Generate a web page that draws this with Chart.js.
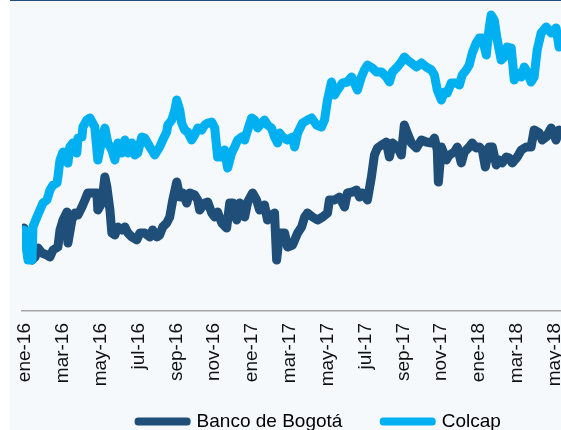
<!DOCTYPE html>
<html>
<head>
<meta charset="utf-8">
<script src="https://cdn.jsdelivr.net/npm/chart.js@4"></script>
<style>
  html, body { margin: 0; padding: 0; background: #ffffff; overflow: hidden; }
  #frame {
    position: absolute; left: 10px; top: 0;
    width: 607px; height: 440px;
    background: #f5f9fc;
    border-top: 1px solid #1f4e79;
  }
</style>
</head>
<body>
<div id="frame"><canvas id="priceChart"></canvas></div>
<script>
// months since ene-16 (x) and index values (y)
const tickLabels = ["ene-16", "mar-16", "may-16", "jul-16", "sep-16", "nov-16", "ene-17", "mar-17",
  "may-17", "jul-17", "sep-17", "nov-17", "ene-18", "mar-18", "may-18"];

const bogotaMonths = [-0.05, 0.16, 0.37, 0.53, 0.69, 0.90, 1.16, 1.32, 1.48, 1.74, 1.85, 2.01, 2.22, 2.27, 2.48, 2.64,
  2.80, 3.01, 3.17, 3.32, 3.54, 3.80, 3.85, 4.06, 4.22, 4.33, 4.49, 4.59, 4.75, 4.91, 5.12, 5.28, 5.44, 5.65, 5.91,
  6.07, 6.33, 6.60, 6.75, 6.97, 7.12, 7.28, 7.49, 7.65, 7.81, 8.02, 8.18, 8.34, 8.55, 8.71, 8.97, 9.13, 9.23, 9.50,
  9.66, 9.87, 10.03, 10.18, 10.40, 10.66, 10.82, 10.98, 11.19, 11.35, 11.61, 11.77, 12.03, 12.24, 12.40, 12.66,
  12.82, 13.03, 13.19, 13.30, 13.46, 13.72, 13.88, 14.14, 14.41, 14.62, 14.78, 14.93, 15.20, 15.46, 15.73, 15.99,
  16.09, 16.36, 16.62, 16.89, 17.04, 17.31, 17.52, 17.68, 17.84, 18.10, 18.31, 18.47, 18.63, 18.84, 19.10, 19.26,
  19.42, 19.68, 19.89, 20.05, 20.21, 20.42, 20.69, 20.95, 21.21, 21.48, 21.64, 21.79, 21.85, 22.01, 22.27, 22.43,
  22.69, 22.85, 23.06, 23.22, 23.48, 23.64, 23.85, 24.01, 24.17, 24.33, 24.54, 24.70, 24.91, 25.07, 25.22, 25.44,
  25.59, 25.75, 26.02, 26.23, 26.49, 26.75, 26.91, 27.18, 27.34, 27.55, 27.81, 28.07, 28.23];
const bogotaValues = [103.4, 97.6, 97.0, 97.6, 99.4, 98.4, 98.0, 97.6, 99.0, 99.6, 103.0, 105.0, 106.6, 100.4, 105.0, 106.4,
  106.0, 107.6, 109.0, 110.4, 110.4, 110.4, 107.0, 108.4, 113.6, 111.6, 107.0, 102.4, 102.0, 103.6, 103.0, 103.6, 102.4, 101.6, 101.0,
  102.4, 102.4, 101.6, 103.0, 101.6, 102.0, 103.6, 104.4, 105.6, 109.0, 112.6, 109.6, 110.4, 108.4, 110.4, 110.0, 109.0, 107.0, 108.4,
  108.6, 106.4, 105.6, 106.6, 104.4, 103.4, 108.4, 108.4, 105.0, 108.4, 105.6, 108.6, 110.4, 109.0, 107.0, 108.0,
  105.0, 106.0, 106.4, 97.0, 102.4, 102.4, 99.6, 100.0, 102.4, 103.6, 105.6, 106.4, 105.6, 105.0, 105.6, 106.4,
  109.0, 109.0, 109.6, 107.6, 110.4, 110.6, 111.0, 109.6, 110.4, 109.0, 113.6, 118.0, 119.4, 120.0, 120.6, 117.6,
  120.4, 119.6, 118.0, 124.0, 122.4, 120.4, 119.4, 121.0, 120.6, 120.4, 121.4, 119.0, 112.6, 119.6, 117.0, 118.0,
  118.6, 119.6, 116.4, 118.6, 119.6, 120.4, 119.4, 119.6, 119.0, 115.6, 119.6, 119.6, 116.0, 117.0, 116.4, 117.6,
  117.4, 116.4, 117.6, 119.0, 119.6, 119.6, 123.0, 122.4, 121.0, 121.6, 123.4, 121.0, 123.0];

const colcapMonths = [-0.05, 0.16, 0.37, 0.42, 0.63, 0.79, 0.95, 1.16, 1.32, 1.48, 1.69, 1.74, 1.85, 2.01, 2.22, 2.27,
  2.37, 2.53, 2.74, 2.80, 3.01, 3.06, 3.27, 3.43, 3.69, 3.85, 4.06, 4.22, 4.38, 4.59, 4.75, 4.91, 5.12, 5.28, 5.44,
  5.65, 5.80, 5.96, 6.17, 6.33, 6.60, 6.86, 7.12, 7.28, 7.49, 7.55, 7.76, 7.92, 8.02, 8.18, 8.28, 8.44, 8.60, 8.81,
  8.97, 9.13, 9.34, 9.50, 9.66, 9.87, 10.03, 10.18, 10.40, 10.55, 10.71, 10.92, 11.08, 11.24, 11.45, 11.61, 11.77,
  11.98, 12.14, 12.30, 12.51, 12.66, 12.82, 13.03, 13.19, 13.35, 13.46, 13.61, 13.88, 14.14, 14.25, 14.41, 14.67,
  14.93, 15.15, 15.41, 15.67, 15.83, 15.99, 16.20, 16.36, 16.52, 16.78, 17.04, 17.26, 17.41, 17.57, 17.78, 17.94,
  18.10, 18.36, 18.58, 18.84, 19.10, 19.26, 19.42, 19.68, 19.89, 20.05, 20.21, 20.42, 20.69, 20.95, 21.21, 21.48,
  21.64, 21.79, 22.01, 22.16, 22.32, 22.53, 22.80, 22.96, 23.11, 23.32, 23.48, 23.64, 23.85, 24.01, 24.17, 24.38,
  24.54, 24.64, 24.80, 24.96, 25.17, 25.33, 25.49, 25.70, 25.86, 26.02, 26.23, 26.39, 26.54, 26.75, 26.91, 27.07,
  27.28, 27.55, 27.81, 28.07, 28.23];
const colcapValues = [103.0, 97.0, 97.0, 103.6, 105.6, 107.0, 108.4, 109.0, 111.0, 112.0, 112.4, 113.6, 117.0, 118.6, 117.6, 116.4,
  119.6, 120.4, 118.4, 121.4, 121.6, 123.6, 125.0, 125.4, 123.6, 117.0, 121.0, 123.4, 120.4, 119.0, 117.0, 120.4, 118.4, 121.0, 118.4,
  120.4, 118.0, 118.4, 121.6, 121.4, 119.6, 118.0, 119.6, 121.0, 122.6, 124.0, 125.0, 127.0, 129.0, 127.0, 124.4, 123.0, 122.6, 121.0,
  122.0, 123.4, 123.0, 124.0, 124.4, 124.6, 123.4, 117.6, 117.6, 119.0, 115.4, 118.4, 119.6, 121.0, 121.6, 121.0, 123.0,
  125.4, 125.0, 123.4, 124.4, 125.0, 124.0, 123.4, 121.6, 120.4, 122.4, 121.6, 121.0, 121.6, 119.6, 122.4, 124.4,
  125.0, 125.4, 124.0, 123.6, 125.0, 129.0, 132.6, 130.0, 131.0, 132.4, 132.6, 133.6, 132.4, 131.0, 133.6, 135.0,
  136.0, 135.4, 134.6, 134.6, 133.6, 132.6, 134.6, 135.6, 136.6, 137.6, 137.0, 136.4, 135.6, 136.4, 135.6, 135.0,
  134.0, 131.0, 129.0, 130.6, 130.4, 132.4, 132.4, 132.0, 134.0, 135.0, 136.0, 138.4, 140.4, 141.4, 141.4, 138.0,
  143.6, 146.0, 145.0, 141.0, 137.0, 137.6, 139.6, 139.4, 133.0, 134.4, 133.6, 135.6, 134.6, 132.6, 133.6, 139.0,
  142.4, 143.6, 142.4, 143.4, 139.6];

function toPoints(xs, ys) {
  return xs.map(function (x, i) { return { x: x, y: ys[i] }; });
}

const labelFont = { family: "'Liberation Sans', Arial, sans-serif", size: 19 };

const ctx = document.getElementById("priceChart").getContext("2d");
const priceChart = new Chart(ctx, {
  type: "line",
  data: {
    datasets: [
      {
        label: "Colcap",
        data: toPoints(colcapMonths, colcapValues),
        borderColor: "#00b0f0",
        backgroundColor: "#00b0f0",
        borderWidth: 9,
        borderJoinStyle: "round",
        borderCapStyle: "round",
        pointRadius: 0,
        tension: 0,
      },
      {
        label: "Banco de Bogotá",
        data: toPoints(bogotaMonths, bogotaValues),
        borderColor: "#1f4e79",
        backgroundColor: "#1f4e79",
        borderWidth: 9,
        borderJoinStyle: "round",
        borderCapStyle: "round",
        pointRadius: 0,
        tension: 0,
      },
    ],
  },
  options: {
    responsive: true,
    maintainAspectRatio: false,
    animation: false,
    layout: { padding: { left: 12, right: 0, top: 4, bottom: 0 } },
    plugins: {
      tooltip: { enabled: false },
      legend: {
        position: "bottom",
        labels: {
          generateLabels: function (chart) {
            const items = Chart.defaults.plugins.legend.labels.generateLabels(chart);
            items.forEach(function (item) {
              item.lineWidth = 7;
              // a little extra room after the first entry, like the original legend
              if (item.datasetIndex === 1) item.text = item.text + "   ";
            });
            return items;
          },
          sort: function (a, b) { return b.datasetIndex - a.datasetIndex; },
          boxWidth: 49,
          boxHeight: 1,
          padding: 25,
          color: "#000000",
          font: labelFont,
        },
      },
    },
    scales: {
      x: {
        type: "linear",
        min: -0.158,
        max: 31.29,
        grid: { display: false, drawTicks: false },
        border: { display: true, color: "#a6a6a6", width: 1.5 },
        afterBuildTicks: function (scale) {
          scale.ticks = tickLabels.map(function (t, i) { return { value: i * 2 }; });
        },
        afterFit: function (scale) {
          scale.height = 76;
        },
        ticks: {
          autoSkip: false,
          minRotation: 90,
          maxRotation: 90,
          padding: 12,
          color: "#111111",
          font: labelFont,
          callback: function (value, index) { return tickLabels[index]; },
        },
      },
      y: {
        display: false,
        min: 86.8,
        max: 148,
      },
    },
  },
});
</script>
</body>
</html>
